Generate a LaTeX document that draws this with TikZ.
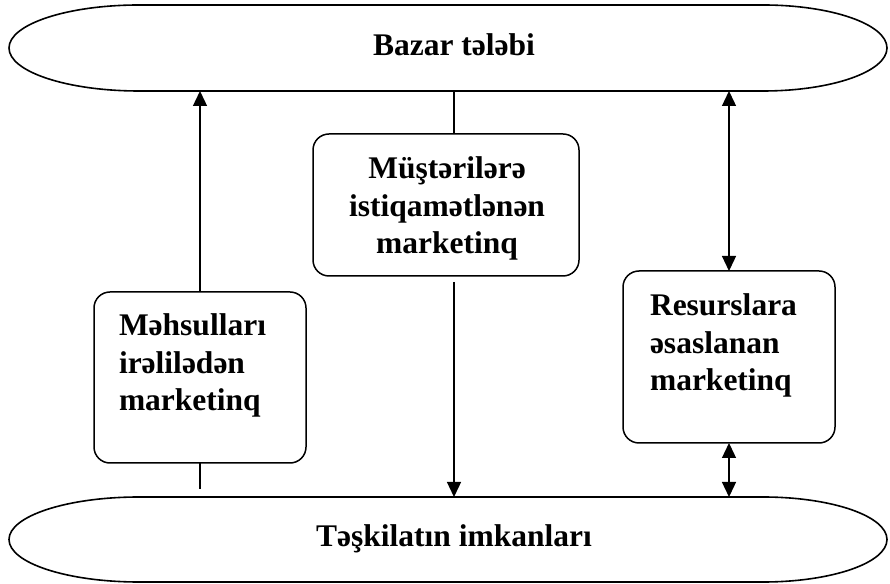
\documentclass[tikz,border=0pt]{standalone}
\usepackage{fontspec}
\setmainfont{Liberation Serif}
\usetikzlibrary{arrows.meta}
\begin{document}
\begin{tikzpicture}[x=1pt,y=1pt,
  >={Triangle[width=14pt,length=15pt]},
  band/.style={inner sep=0pt, outer sep=0pt, minimum width=878pt},
  bandline/.style={line width=1.6pt},
  stagebox/.style={draw, line width=1.5pt, rounded corners=16pt, inner sep=0pt, outer sep=0pt},
  boxtext/.style={inner sep=0pt, outer sep=0pt, font=\bfseries\fontsize{31.5}{37.5}\selectfont},
  flow/.style={line width=1.3pt}]
\useasboundingbox (0,0) rectangle (890,583);

% the two wide bands: market demand on top, company capabilities below
\node[band, minimum height=86pt] (demand) at (448,535) {};
\node[band, minimum height=85pt] (means) at (448,43.5) {};
\draw[bandline] ([xshift=130pt]demand.north west) -- ([xshift=-124pt]demand.north east)
  arc[start angle=90, end angle=-90, x radius=124pt, y radius=43pt]
  -- ([xshift=130pt]demand.south west)
  arc[start angle=270, end angle=90, x radius=130pt, y radius=43pt] -- cycle;
\draw[bandline] ([xshift=130pt]means.north west) -- ([xshift=-124pt]means.north east)
  arc[start angle=90, end angle=-90, x radius=124pt, y radius=42.5pt]
  -- ([xshift=130pt]means.south west)
  arc[start angle=270, end angle=90, x radius=130pt, y radius=42.5pt] -- cycle;
\node[boxtext, anchor=base] (demandtext) at (454,527) {Bazar tələbi};
\node[boxtext, anchor=base] (meanstext) at (454,37) {Təşkilatın imkanları};

% the three marketing approaches
\node[stagebox, minimum width=212pt, minimum height=171pt] (prod) at (200,205.5) {};
\node[stagebox, minimum width=266pt, minimum height=142pt] (cust) at (446,378) {};
\node[stagebox, minimum width=212pt, minimum height=172pt] (res) at (729,226) {};

\node[boxtext, align=left, anchor=north west] (prodtext)
  at ([xshift=25pt, yshift=-21.7pt]prod.north west) {Məhsulları\\irəlilədən\\marketinq};
\node[boxtext, align=center, anchor=north] (custtext)
  at ([xshift=1pt, yshift=-22.7pt]cust.north) {Müştərilərə\\istiqamətlənən\\marketinq};
\node[boxtext, align=left, anchor=north west] (restext)
  at ([xshift=27pt, yshift=-22.7pt]res.north west) {Resurslara\\əsaslanan\\marketinq};

% links between the bands and the approaches
\coordinate (custx) at (454,300);
\draw[flow, ->] (prod.north) -- (prod.north |- demand.south);
\draw[flow, shorten >=8pt] (prod.south) -- (prod.south |- means.north);
\draw[flow] (demand.south -| custx) -- (cust.north -| custx);
\draw[flow, ->, shorten <=6pt] (cust.south -| custx) -- (means.north -| custx);
\draw[flow, <->] (res.north) -- (res.north |- demand.south);
\draw[flow, <->] (res.south) -- (res.south |- means.north);
\end{tikzpicture}
\end{document}
